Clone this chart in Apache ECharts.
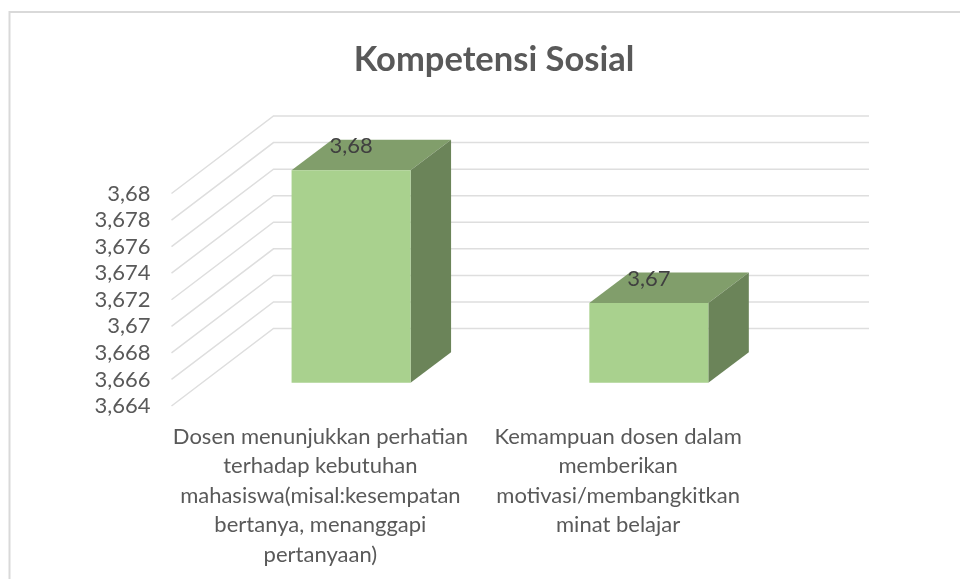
<!DOCTYPE html>
<html lang="id">

<head>
	<meta charset="UTF-8">
	<title>Kompetensi Sosial</title>
	<style>
		html, body { margin: 0; padding: 0; background: #fff; }
		#chart { width: 960px; height: 579px; }
	</style>
</head>

<body>
	<div id="chart"></div>
	<script src="https://cdn.jsdelivr.net/npm/echarts@6/dist/echarts.min.js"></script>
	<script>
		var chartTitle = 'Kompetensi Sosial';
		var categories = [
			'Dosen menunjukkan perhatian\nterhadap kebutuhan\nmahasiswa(misal:kesempatan\nbertanya, menanggapi\npertanyaan)',
			'Kemampuan dosen dalam\nmemberikan\nmotivasi/membangkitkan\nminat belajar'
		];
		var values = [3.68, 3.67];
		var valueLabels = ['3,68', '3,67'];
		var tickValues = [3.664, 3.666, 3.668, 3.67, 3.672, 3.674, 3.676, 3.678, 3.68];

		// fake 3d: how far the back wall and the bars are pushed, in px
		var wallDx = 102, wallDy = 77.5;
		var barGapDx = 30.7, barGapDy = 23.3;
		var barDepthDx = 40.5, barDepthDy = 30.5;
		var barWidth = 119;

		function renderWall(params, api) {
			var cs = params.coordSys;
			var y = api.coord([0, api.value(1)])[1];
			return {
				type: 'polyline',
				shape: {
					points: [
						[cs.x, y],
						[cs.x + wallDx, y - wallDy],
						[cs.x + wallDx + cs.width, y - wallDy]
					]
				},
				style: { fill: null, stroke: '#dedede', lineWidth: 1.5 }
			};
		}

		function renderBar(params, api) {
			var idx = api.value(0);
			var top = api.coord([idx, api.value(1)]);
			var floor = api.coord([idx, tickValues[0]]);
			var x0 = top[0] + barGapDx - barWidth / 2;
			var x1 = x0 + barWidth;
			var y0 = top[1] - barGapDy;
			var y1 = floor[1] - barGapDy;
			return {
				type: 'group',
				children: [
					{
						type: 'polygon',
						shape: { points: [[x0, y0], [x1, y0], [x1 + barDepthDx, y0 - barDepthDy], [x0 + barDepthDx, y0 - barDepthDy]] },
						style: { fill: '#819e6b' }
					},
					{
						type: 'polygon',
						shape: { points: [[x1, y0], [x1 + barDepthDx, y0 - barDepthDy], [x1 + barDepthDx, y1 - barDepthDy], [x1, y1]] },
						style: { fill: '#6b8459' }
					},
					{
						type: 'rect',
						shape: { x: x0, y: y0, width: barWidth, height: y1 - y0 },
						style: { fill: '#a9d18e' }
					},
					{
						type: 'text',
						style: {
							x: (x0 + x1) / 2,
							y: y0 - 24,
							text: valueLabels[params.dataIndex],
							fill: '#404040',
							font: '22px Lato',
							align: 'center',
							verticalAlign: 'middle'
						}
					}
				]
			};
		}

		var myChart = echarts.init(document.getElementById('chart'));
		myChart.setOption({
			animation: false,
			title: {
				text: chartTitle,
				left: 489,
				top: 37,
				textAlign: 'center',
				textStyle: { fontFamily: 'Lato', fontWeight: 'bold', fontSize: 34.5, color: '#595959' }
			},
			grid: { left: 171.5, top: 193.5, width: 595.5, height: 212.5 },
			xAxis: {
				type: 'category',
				data: categories,
				axisLine: { show: false },
				axisTick: { show: false },
				axisLabel: {
					interval: 0,
					margin: 16,
					color: '#595959',
					fontFamily: 'Lato',
					fontSize: 22,
					lineHeight: 29.5,
					align: 'center'
				}
			},
			yAxis: {
				type: 'value',
				min: 3.664,
				max: 3.68,
				interval: 0.002,
				axisLine: { show: false },
				axisTick: { show: false },
				splitLine: { show: false },
				axisLabel: {
					margin: 21,
					color: '#595959',
					fontFamily: 'Lato',
					fontSize: 22,
					formatter: function (v) {
						return String(v).replace('.', ',');
					}
				}
			},
			// chart frame, only the top and left edges are in the picture
			graphic: [{
				type: 'polyline',
				shape: { points: [[9.5, 579], [9.5, 12], [960, 12]] },
				style: { fill: null, stroke: '#d9d9d9', lineWidth: 2 }
			}],
			series: [
				{
					type: 'custom',
					renderItem: renderWall,
					data: tickValues.map(function (v) { return [0, v]; }),
					encode: { x: 0, y: 1 },
					clip: false,
					silent: true,
					z: 1
				},
				{
					type: 'custom',
					renderItem: renderBar,
					data: values.map(function (v, i) { return [i, v]; }),
					encode: { x: 0, y: 1 },
					clip: false,
					z: 2
				}
			]
		});
	</script>
</body>

</html>
